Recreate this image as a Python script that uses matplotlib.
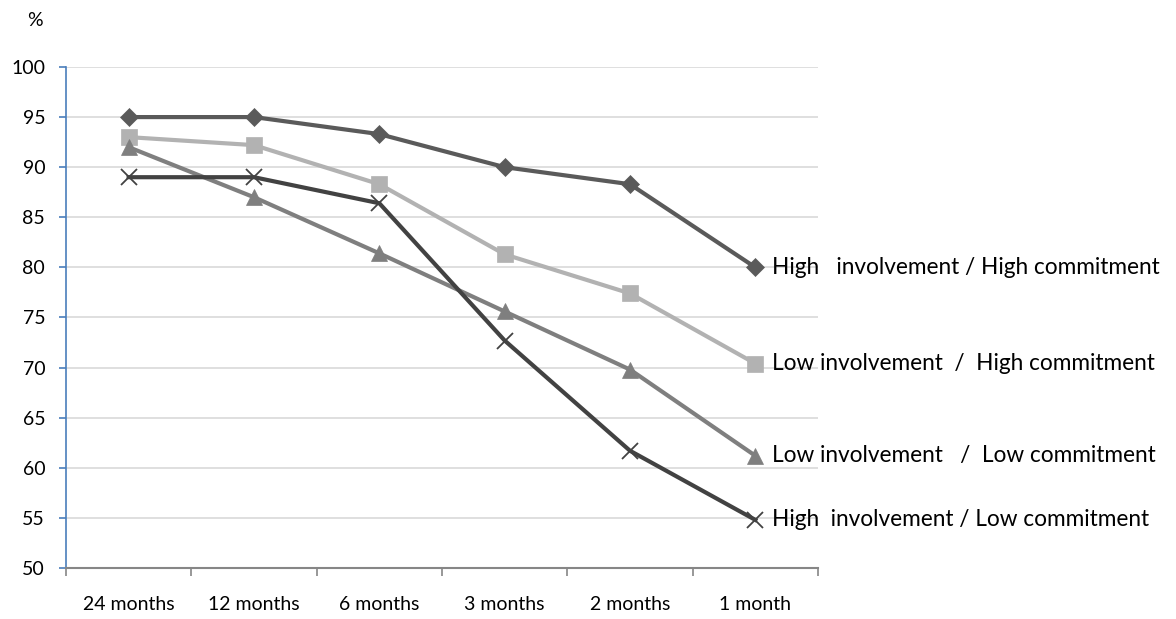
import numpy as np
import matplotlib.pyplot as plt

plt.rcParams['font.family'] = ['Lato', 'DejaVu Sans']

periods = ["24 months", "12 months", "6 months", "3 months", "2 months", "1 month"]
high_inv_high_com = [95.0, 95.0, 93.3, 90.0, 88.3, 80.0]
low_inv_high_com = [93.0, 92.2, 88.3, 81.3, 77.4, 70.4]
low_inv_low_com = [92.0, 87.0, 81.4, 75.6, 69.8, 61.2]
high_inv_low_com = [89.0, 89.0, 86.4, 72.7, 61.7, 54.8]

series = [
    (high_inv_high_com, "High   involvement / High commitment", "#5a5a5a", "D", 9),
    (low_inv_high_com, "Low involvement  /  High commitment", "#b2b2b2", "s", 11),
    (low_inv_low_com, "Low involvement   /  Low commitment", "#7f7f7f", "^", 11),
    (high_inv_low_com, "High  involvement / Low commitment", "#424242", "x", 11),
]

fig = plt.figure(figsize=(11.76, 6.19), dpi=100)
ax = fig.add_axes([0.0561, 0.0824, 0.6395, 0.8094])

x = np.arange(len(periods))
for vals, label, color, marker, ms in series:
    ax.plot(x, vals, color=color, lw=3, marker=marker, markersize=ms,
            markeredgewidth=1.3 if marker == "x" else 0.5,
            markeredgecolor=color, zorder=3)
    ax.annotate(label, (x[-1], vals[-1]), xytext=(12, 0), textcoords="offset points",
                va="center", ha="left", fontsize=16.3, color="black",
                annotation_clip=False)

ax.set_xlim(-0.5, len(periods) - 0.5)
ax.set_ylim(50, 100)
ax.set_yticks(np.arange(50, 101, 5))
ax.yaxis.grid(True, color="#d9d9d9", lw=1.2)
ax.set_axisbelow(True)

ax.set_xticks(x)
ax.set_xticklabels(periods)
ax.set_xticks(np.arange(-0.5, len(periods), 1), minor=True)
ax.tick_params(axis="x", which="major", length=0, pad=20, labelsize=14)
ax.tick_params(axis="x", which="minor", length=6, color="#868686", width=1.2)
ax.tick_params(axis="y", length=5, color="#4a7ebb", width=1.2, labelsize=14, pad=10)

for side in ("top", "right"):
    ax.spines[side].set_visible(False)
ax.spines["left"].set_color("#4a7ebb")
ax.spines["left"].set_linewidth(1.2)
ax.spines["bottom"].set_color("#868686")
ax.spines["bottom"].set_linewidth(1.5)

fig.text(35 / 1176, 1 - 20 / 619, "%", fontsize=14, ha="center", va="center")

fig.savefig("out.png", dpi=100)
